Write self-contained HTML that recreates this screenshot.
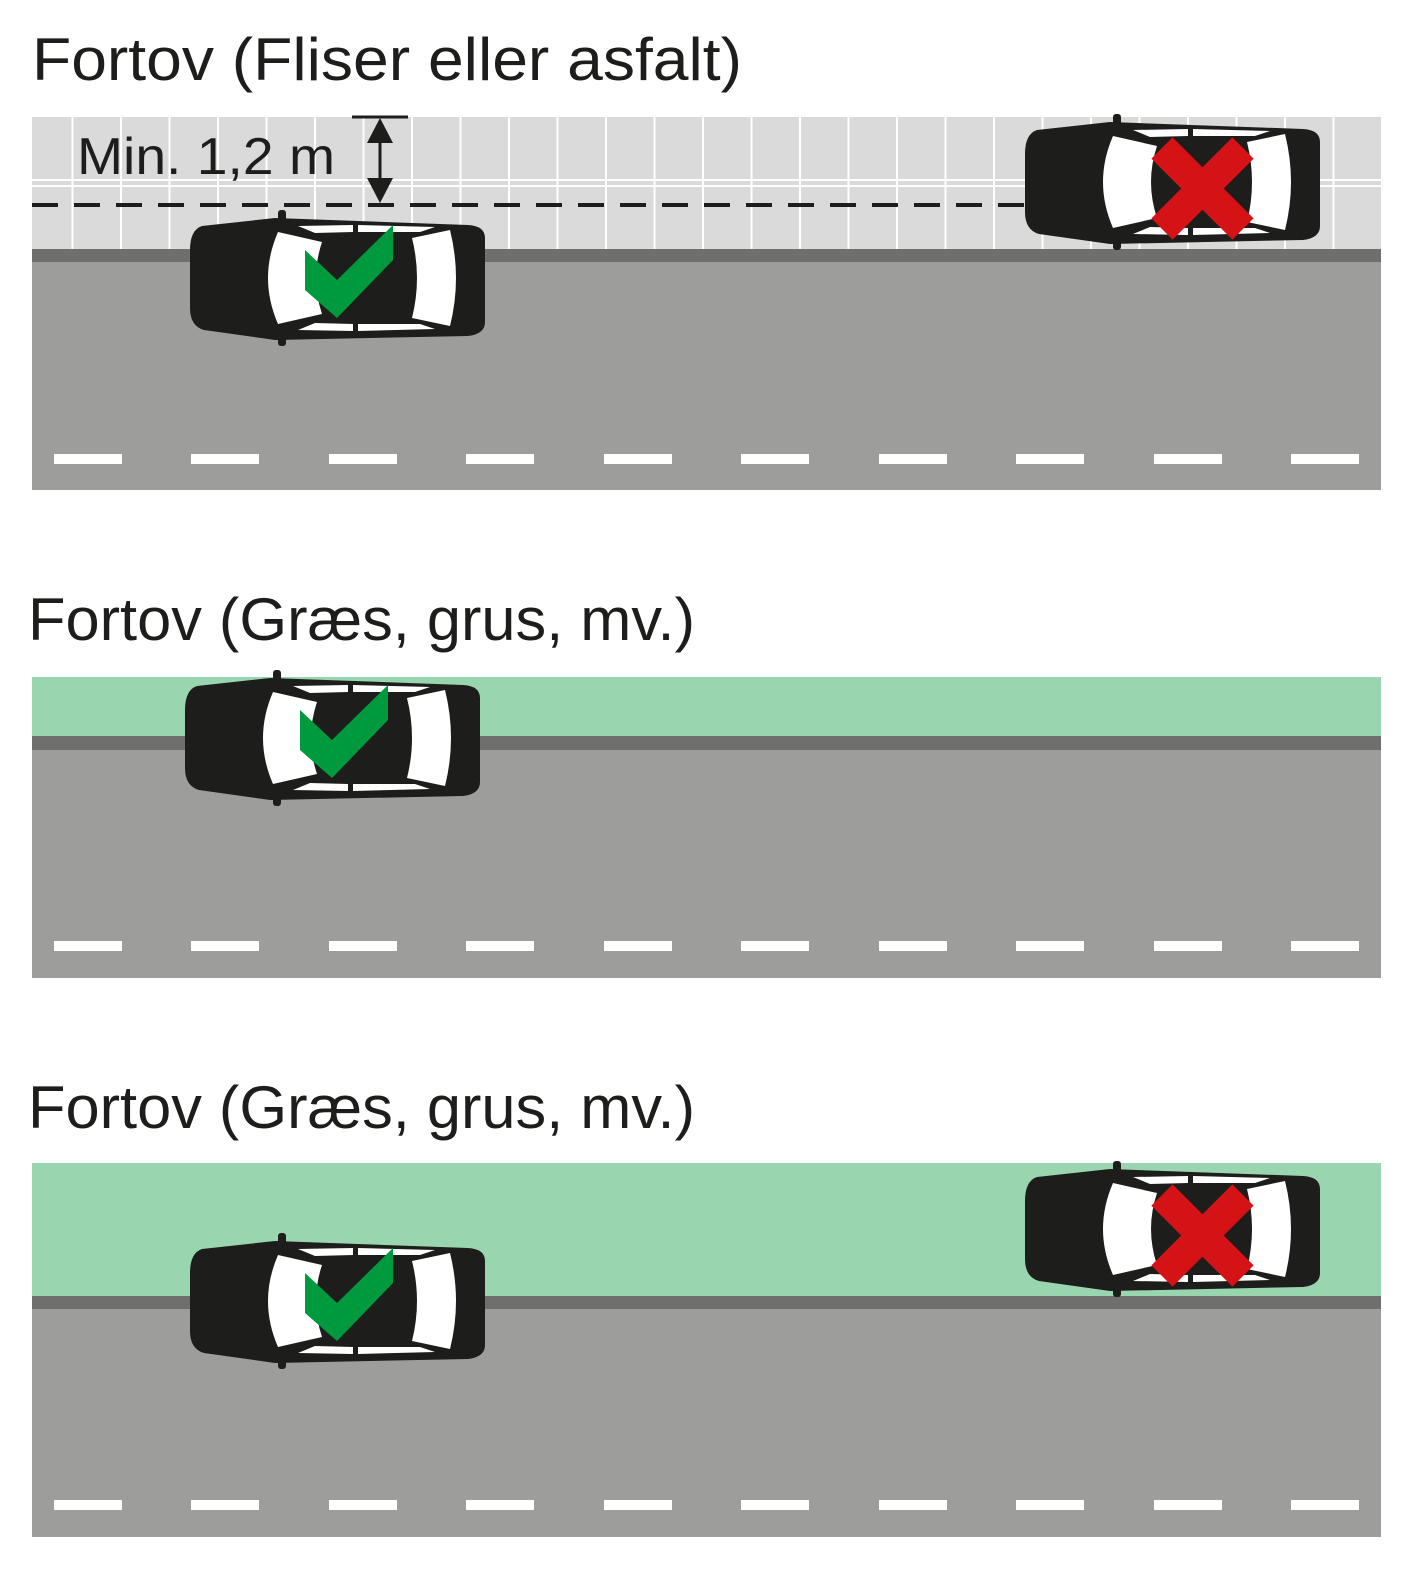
<!DOCTYPE html>
<html><head><meta charset="utf-8"><style>html,body{margin:0;padding:0;background:#fff;overflow:hidden;width:1420px;height:1578px}svg{display:block}</style></head>
<body>
<svg width="1420" height="1578" viewBox="0 0 1420 1578" xmlns="http://www.w3.org/2000/svg" font-family="Liberation Sans, sans-serif">
<defs>
<g id="car">
  <rect x="88" y="0" width="8" height="16" fill="#1d1d1b" rx="3"/>
  <rect x="88" y="120" width="8" height="16" fill="#1d1d1b" rx="3"/>
  <path d="M12 16 Q0 20 0 40 L0 98 Q0 116 14 120 L85 130 L278 126 Q295 124 295 112 L295 28 Q295 16 278 15 L85 8 Z" fill="#1d1d1b"/>
  <path d="M88 22 Q68 68 88 114 L132 104 Q120 68 132 32 Z" fill="#fff"/>
  <path d="M222 28 Q232 68 222 108 L260 116 Q272 68 260 20 Z" fill="#fff"/>
  <path d="M108 16 L163 15 L163 22 L125 23 Z M168 15 L245 17 L230 22 L168 22 Z" fill="#fff"/>
  <path d="M108 120 L163 121 L163 114 L125 113 Z M168 121 L245 119 L230 114 L168 114 Z" fill="#fff"/>
</g>
<g id="chk"><polygon points="115,40 147,70 203,15 203,50 147,108 115,80" fill="#009a3e"/></g>
<g id="crs"><path d="M137 34 L218 115 M218 34 L137 115" stroke="#d51317" stroke-width="30"/></g>
<g id="dashes" fill="#fff">
  <rect x="54" y="0" width="68" height="10"/><rect x="191" y="0" width="68" height="10"/><rect x="329" y="0" width="68" height="10"/><rect x="466" y="0" width="68" height="10"/><rect x="604" y="0" width="68" height="10"/><rect x="741" y="0" width="68" height="10"/><rect x="879" y="0" width="68" height="10"/><rect x="1016" y="0" width="68" height="10"/><rect x="1154" y="0" width="68" height="10"/><rect x="1291" y="0" width="68" height="10"/>
</g>
<pattern id="tiles" x="23" y="0" width="48.5" height="200" patternUnits="userSpaceOnUse">
  <rect width="48.5" height="200" fill="#dadada"/>
  <rect x="0" y="0" width="2" height="200" fill="#fff"/>
</pattern>
</defs>

<text x="32" y="80" font-size="60" fill="#1d1d1b" textLength="710" lengthAdjust="spacingAndGlyphs">Fortov (Fliser eller asfalt)</text>
<rect x="32" y="117" width="1349" height="132" fill="url(#tiles)"/>
<rect x="32" y="179" width="1349" height="2" fill="#fff"/>
<rect x="32" y="185" width="1349" height="2" fill="#fff"/>
<rect x="32" y="249" width="1349" height="13" fill="#6f6f6e"/>
<rect x="32" y="262" width="1349" height="228" fill="#9d9d9c"/>
<use href="#dashes" y="454"/>
<line x1="32" y1="205" x2="1030" y2="205" stroke="#1d1d1b" stroke-width="4" stroke-dasharray="26,16"/>
<text x="77" y="174" font-size="52" fill="#1d1d1b" textLength="258" lengthAdjust="spacingAndGlyphs">Min. 1,2 m</text>
<line x1="352" y1="117" x2="408" y2="117" stroke="#1d1d1b" stroke-width="3"/>
<line x1="380" y1="130" x2="380" y2="190" stroke="#1d1d1b" stroke-width="3"/>
<polygon points="380,118 367,143 393,143" fill="#1d1d1b"/>
<polygon points="380,203 367,178 393,178" fill="#1d1d1b"/>
<g transform="translate(190,210)"><use href="#car"/><use href="#chk"/></g>
<g transform="translate(1025,114)"><use href="#car"/><use href="#crs"/></g>

<text x="28" y="640" font-size="60" fill="#1d1d1b" textLength="667" lengthAdjust="spacingAndGlyphs">Fortov (Græs, grus, mv.)</text>
<rect x="32" y="677" width="1349" height="59" fill="#99d6af"/>
<rect x="32" y="736" width="1349" height="14" fill="#6f6f6e"/>
<rect x="32" y="750" width="1349" height="228" fill="#9d9d9c"/>
<use href="#dashes" y="941"/>
<g transform="translate(185,670)"><use href="#car"/><use href="#chk"/></g>

<text x="28" y="1128" font-size="60" fill="#1d1d1b" textLength="667" lengthAdjust="spacingAndGlyphs">Fortov (Græs, grus, mv.)</text>
<rect x="32" y="1163" width="1349" height="133" fill="#99d6af"/>
<rect x="32" y="1296" width="1349" height="13" fill="#6f6f6e"/>
<rect x="32" y="1309" width="1349" height="228" fill="#9d9d9c"/>
<use href="#dashes" y="1500"/>
<g transform="translate(190,1233)"><use href="#car"/><use href="#chk"/></g>
<g transform="translate(1025,1161)"><use href="#car"/><use href="#crs"/></g>
</svg>
</body></html>
